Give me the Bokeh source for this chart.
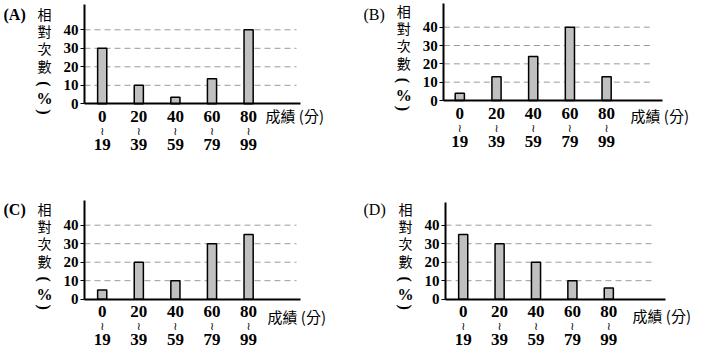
import numpy as np
from bokeh.plotting import figure
from bokeh.models import Range1d, LinearAxis, FixedTicker, Label
from bokeh.layouts import column, row
from bokeh.embed import file_html
from bokeh.resources import INLINE

# ---------------- data ----------------
groups = ["0~19", "20~39", "40~59", "60~79", "80~99"]
x_top_labels = ["0", "20", "40", "60", "80"]
x_mid_labels = ["≀", "≀", "≀", "≀", "≀"]
x_bottom_labels = ["19", "39", "59", "79", "99"]
y_ticks = [0, 10, 20, 30, 40]
grid_ticks = [10, 20, 30, 40]
values_A = [30, 10, 3.5, 13.5, 40]
values_B = [4, 13, 24, 40, 13]
values_C = [5, 20, 10, 30, 35]
values_D = [35, 30, 20, 10, 6]
panel_names = ["(A)", "(B)", "(C)", "(D)"]
y_label_chars = ["相", "對", "次", "數", "(", "%", ")"]
x_title = "成績 (分)"

# ---------------- styles / geometry (pixels inside each canvas) ----------------
SERIF = "Liberation Serif"
CJK = "Noto Sans CJK TC"
BAR_FILL = "#c0c0c0"
GRID_COLOR = "#9a9a9a"

geom = {
    "A": dict(w=360, h=195, ax=84, off=17.7, sx=36.6, z=103.3, sy=1.85, top=4,
              xend=300, gend=296, nbold=True, tx=265, tdy=12),
    "B": dict(w=346, h=195, ax=83.3, off=16.0, sx=36.7, z=100.0, sy=1.833, top=3,
              xend=302, gend=293, nbold=False, tx=270, tdy=15),
    "C": dict(w=360, h=164, ax=84, off=17.7, sx=36.6, z=103.7, sy=1.85, top=5,
              xend=300, gend=296, nbold=True, tx=267, tdy=17),
    "D": dict(w=346, h=164, ax=85, off=17.7, sx=36.4, z=103.7, sy=1.85, top=7,
              xend=305, gend=295, nbold=False, tx=272, tdy=16),
}
ylab_dy = [-90, -73, -56, -38, -20, -5, 8]


def make_panel(g, name, values):
    w, h, ax, off, sx, z, sy = g["w"], g["h"], g["ax"], g["off"], g["sx"], g["z"], g["sy"]
    x_lo = -(ax + off) / sx
    x_hi = (w - ax - off) / sx
    y_lo = -(h - z) / sy
    y_hi = z / sy

    def X(px):
        return x_lo + px / sx

    def Y(py):
        return y_hi - py / sy

    xs = np.arange(len(groups))
    p = figure(width=w, height=h, output_backend="svg", toolbar_location=None,
               x_range=Range1d(x_lo, x_hi), y_range=Range1d(y_lo, y_hi),
               x_axis_type=None, y_axis_type=None, min_border=0,
               background_fill_color="white", border_fill_color="white")
    p.outline_line_color = None
    p.xgrid.visible = False
    p.ygrid.visible = False

    axis_x = X(ax)

    # dashed grid lines at the y tick values
    n = len(grid_ticks)
    p.segment(x0=[axis_x] * n, x1=[X(g["gend"])] * n, y0=grid_ticks, y1=grid_ticks,
              line_color=GRID_COLOR, line_dash="6 4", line_width=1)

    # bars
    p.vbar(x=xs, top=values, width=0.25, bottom=0, fill_color=BAR_FILL,
           line_color="black", line_width=1.5)

    # y axis
    yax = LinearAxis(ticker=FixedTicker(ticks=y_ticks), fixed_location=axis_x,
                     bounds=(0, Y(g["top"])),
                     major_label_text_font=SERIF, major_label_text_font_style="bold",
                     major_label_text_font_size="15px", major_label_text_color="black",
                     axis_line_width=2, axis_line_color="black",
                     major_tick_out=4, major_tick_in=0, major_tick_line_color="black",
                     minor_tick_out=0, minor_tick_in=0, major_label_standoff=2)
    p.add_layout(yax, "left")

    # x axes: three rows of labels under the axis line
    common = dict(ticker=FixedTicker(ticks=list(xs)), fixed_location=0,
                  major_tick_out=0, major_tick_in=0, minor_tick_out=0, minor_tick_in=0,
                  major_label_text_color="black")
    ax1 = LinearAxis(major_label_overrides={int(i): t for i, t in zip(xs, x_top_labels)},
                     bounds=(axis_x, X(g["xend"])),
                     major_label_text_font=SERIF, major_label_text_font_style="bold",
                     major_label_text_font_size="17px",
                     axis_line_width=2, axis_line_color="black",
                     major_tick_line_color=None, major_label_standoff=7, **common)
    ax2 = LinearAxis(major_label_overrides={int(i): t for i, t in zip(xs, x_mid_labels)},
                     major_label_text_font="DejaVu Sans", major_label_text_font_size="11px",
                     axis_line_color=None, major_tick_line_color=None,
                     major_label_standoff=21, **common)
    ax3 = LinearAxis(major_label_overrides={int(i): t for i, t in zip(xs, x_bottom_labels)},
                     major_label_text_font=SERIF, major_label_text_font_style="bold",
                     major_label_text_font_size="17px",
                     axis_line_color=None, major_tick_line_color=None,
                     major_label_standoff=35, **common)
    p.add_layout(ax1, "below")
    p.add_layout(ax2, "below")
    p.add_layout(ax3, "below")

    # panel name
    p.add_layout(Label(x=X(3), y=Y(14), text=name, text_font=SERIF, text_font_size="16px",
                       text_font_style="bold" if g["nbold"] else "normal",
                       text_color="black", text_align="left", text_baseline="middle"))
    # vertical y label (parentheses turned to vertical form)
    for ch, d in zip(y_label_chars, ylab_dy):
        is_cjk = ch not in "()%"
        is_paren = ch in "()"
        p.add_layout(Label(x=X(ax - 40), y=Y(z + d), text=ch,
                           text_font=CJK if is_cjk else SERIF,
                           text_font_style="normal" if is_cjk else "bold",
                           text_font_size="14px" if is_cjk else "16px",
                           angle=-np.pi / 2 if is_paren else 0,
                           text_color="black", text_align="center", text_baseline="middle"))
    # x title
    p.add_layout(Label(x=X(g["tx"]), y=Y(z + g["tdy"]), text=x_title,
                       text_font=CJK, text_font_size="15px", text_color="black",
                       text_align="left", text_baseline="middle"))
    return p


pA = make_panel(geom["A"], panel_names[0], values_A)
pB = make_panel(geom["B"], panel_names[1], values_B)
pC = make_panel(geom["C"], panel_names[2], values_C)
pD = make_panel(geom["D"], panel_names[3], values_D)

layout = column(row(pA, pB), row(pC, pD))
open("out.html", "w").write(file_html(layout, INLINE, title="chart"))
